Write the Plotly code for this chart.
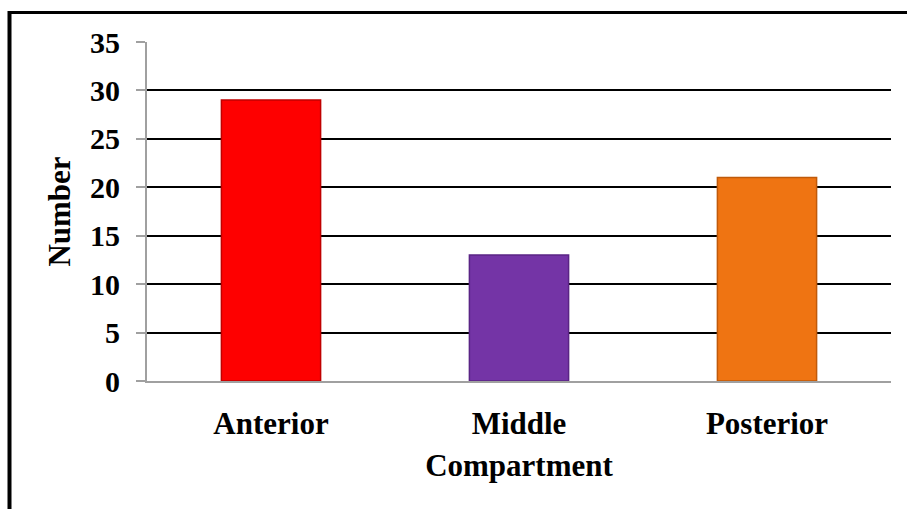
import plotly.graph_objects as go

categories = ["Anterior", "Middle", "Posterior"]
values = [29, 13, 21]
bar_colors = ["#FE0000", "#7434A6", "#EF7412"]
edge_colors = ["#C00000", "#5A2485", "#C05A0A"]
y_ticks = [0, 5, 10, 15, 20, 25, 30, 35]

FONT = "Liberation Serif, Times New Roman, serif"

fig = go.Figure()
fig.add_trace(go.Bar(
    x=categories, y=values, width=0.4,
    marker=dict(color=bar_colors, line=dict(color=edge_colors, width=1.5)),
    showlegend=False,
))

L, R, T, B = 147, 16, 42, 128
W, H = 907, 509
pw, ph = W - L - R, H - T - B

def px2x(px):
    return (px - L) / pw

def py2y(py):
    return (H - B - py) / ph

fig.update_layout(
    width=W, height=H,
    margin=dict(l=L, r=R, t=T, b=B, pad=0),
    paper_bgcolor="white", plot_bgcolor="white",
    font=dict(family=FONT, color="black", size=30, weight="bold"),
    xaxis=dict(
        showgrid=False, showline=True, linecolor="#A0A0A0", linewidth=2,
        ticks="", tickfont=dict(size=31, weight="bold"),
        ticklabelstandoff=14,
        title=dict(text="Compartment", font=dict(size=31, weight="bold"), standoff=14),
        automargin=False,
    ),
    yaxis=dict(
        range=[0, 35], tickvals=y_ticks,
        showgrid=True, gridcolor="black", gridwidth=2,
        zeroline=False,
        showline=True, linecolor="#A0A0A0", linewidth=2,
        ticks="outside", ticklen=9, tickwidth=2, tickcolor="#A0A0A0",
        tickfont=dict(size=30, weight="bold"),
        ticklabelstandoff=10,
        title=dict(text="Number", font=dict(size=31, weight="bold"), standoff=10),
        automargin=False,
    ),
    shapes=[
        dict(type="line", xref="paper", yref="paper",
             x0=px2x(8), x1=px2x(907), y0=py2y(12.5), y1=py2y(12.5),
             line=dict(color="black", width=3)),
        dict(type="line", xref="paper", yref="paper",
             x0=px2x(9.5), x1=px2x(9.5), y0=py2y(11), y1=py2y(509),
             line=dict(color="black", width=4)),
    ],
)

fig.write_html("out.html")
